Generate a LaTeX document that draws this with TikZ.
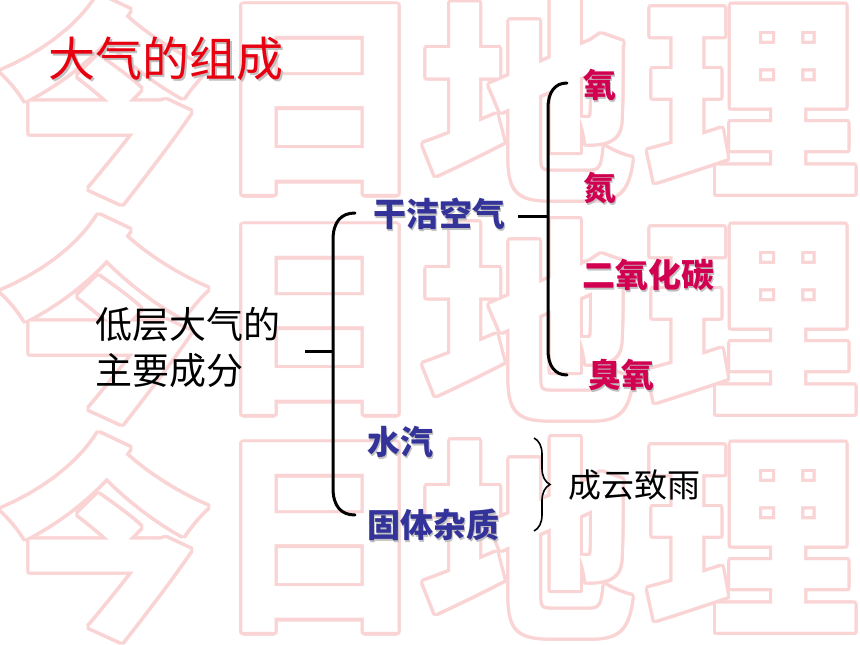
\documentclass[tikz,border=0pt]{standalone}
\usepackage{fontspec}
\newfontfamily\cjk{Noto Sans CJK SC}
\IfFontExistsTF{Noto Sans CJK SC Black}
  {\newfontfamily\wmfont{Noto Sans CJK SC Black}}
  {\newfontfamily\wmfont{Noto Sans CJK SC Bold}}
\usetikzlibrary{decorations.pathreplacing}
\definecolor{wmpink}{RGB}{250,212,212}
\definecolor{titlered}{RGB}{232,0,16}
\definecolor{labblue}{RGB}{51,51,153}
\definecolor{labpink}{RGB}{210,0,80}
\definecolor{shadowgray}{RGB}{150,150,150}
\tikzset{
  wm/.style={font=\wmfont\fontsize{215}{215}\selectfont, inner sep=0pt},
  title/.style={font=\cjk\fontsize{47}{47}\selectfont, inner sep=0pt, anchor=west, text=titlered},
  plain/.style={font=\cjk\fontsize{37}{46}\selectfont, inner sep=0pt, anchor=west, text=black, align=left},
  small/.style={font=\cjk\fontsize{33}{33}\selectfont, inner sep=0pt, anchor=west, text=black},
  blue/.style={font=\cjk\bfseries\fontsize{33}{33}\selectfont, inner sep=0pt, anchor=west, text=labblue},
  pink/.style={font=\cjk\bfseries\fontsize{33}{33}\selectfont, inner sep=0pt, anchor=west, text=labpink},
  shad/.style={text=shadowgray!60},
  bracket/.style={draw=black, line width=3pt},
  bracebar/.style={draw=black, line width=1.6pt, decorate, decoration={brace, amplitude=16pt}},
}
\begin{document}
\begin{tikzpicture}[x=1pt, y=-1pt]
\useasboundingbox (0,0) rectangle (860,645);
\fill[white] (0,0) rectangle (860,645);
% watermark
\foreach \ch/\cx/\cy in {今/105/100, 日/320/100, 地/528/100, 理/752/100,
                         今/105/320, 日/320/320, 地/528/320, 理/752/320,
                         今/105/538, 日/320/538, 地/528/538, 理/752/538}{
  \foreach \a in {0,30,...,330}{
    \node[wm, text=wmpink] at ([shift={(\a:3.2)}]\cx,\cy) {\ch};
  }
  \node[wm, text=white] at (\cx,\cy) {\ch};
}
% title
\node[title, shad] at (50.5,61) {大气的组成};
\node[title] (title) at (48,59) {大气的组成};
% main label
\node[plain] (main) at (95,347) {低层大气的\\主要成分};
% level 1
\node[blue, shad] at (374.5,215.5) {干洁空气};
\node[blue] (dry) at (373,214) {干洁空气};
\node[blue, shad] at (368.5,443.5) {水汽};
\node[blue] (water) at (367,442) {水汽};
\node[blue, shad] at (368.5,526.5) {固体杂质};
\node[blue] (solid) at (367,525) {固体杂质};
% level 2
\node[pink, shad] at (584.5,86.5) {氧};
\node[pink] (o2) at (583,85) {氧};
\node[pink, shad] at (584.5,189.5) {氮};
\node[pink] (n2) at (583,188) {氮};
\node[pink, shad] at (583.5,276.5) {二氧化碳};
\node[pink] (co2) at (582,275) {二氧化碳};
\node[pink, shad] at (589.5,376.5) {臭氧};
\node[pink] (o3) at (588,375) {臭氧};
\node[small] (rain) at (568,485) {成云致雨};
% left bracket
\coordinate (ltick) at (305,351);
\coordinate (lbar) at (333,351);
\coordinate (ltop) at (355,213);
\coordinate (lbot) at (355,515);
\draw[bracket] (ltick) -- (lbar);
\draw[bracket, line cap=round] (ltop) .. controls (341,213) and (333,222) .. (333,240)
   -- (333,488) .. controls (333,506) and (341,515) .. (lbot);
% right bracket
\coordinate (rtick) at (518,216);
\coordinate (rbar) at (548,216);
\coordinate (rtop) at (567,83);
\coordinate (rbot) at (567,375);
\draw[bracket] (rtick) -- (rbar);
\draw[bracket, line cap=round] (rtop) .. controls (555,83) and (548,92) .. (548,108)
   -- (548,350) .. controls (548,366) and (555,375) .. (rbot);
% brace
\coordinate (btop) at (534,438);
\coordinate (bbot) at (534,531);
\draw[bracebar] (btop) -- (bbot);
\end{tikzpicture}
\end{document}
